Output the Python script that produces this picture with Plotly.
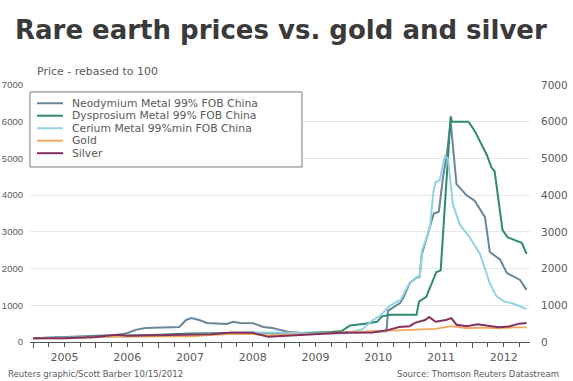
import plotly.graph_objects as go

# ---- data: prices rebased to 100 (Jan 2005 = 100) ----
nd_dates = ["2005-01-01", "2005-04-01", "2005-07-01", "2005-10-01", "2006-01-01", "2006-05-01",
            "2006-07-01", "2006-08-20", "2006-10-15", "2007-01-01", "2007-05-01", "2007-06-10",
            "2007-07-10", "2007-08-25", "2007-10-10", "2008-02-01", "2008-03-10", "2008-04-20",
            "2008-07-05", "2008-09-01", "2008-10-25", "2009-01-20", "2009-04-01", "2009-07-01",
            "2009-10-01", "2010-01-01", "2010-04-01", "2010-08-20", "2010-08-28", "2010-11-06",
            "2010-11-25", "2011-01-01", "2011-02-10", "2011-02-28", "2011-03-14", "2011-04-08",
            "2011-05-08", "2011-05-22", "2011-06-20", "2011-07-15", "2011-08-08", "2011-08-28",
            "2011-10-01", "2011-11-28", "2012-01-15", "2012-03-15", "2012-04-12", "2012-06-10",
            "2012-07-20", "2012-10-05", "2012-11-12"]
nd_vals = [100, 115, 130, 140, 160, 190,
           240, 330, 380, 390, 410, 600,
           650, 600, 520, 490, 550, 520,
           510, 410, 380, 280, 250, 240,
           250, 250, 270, 290, 850, 1060,
           1200, 1600, 1750, 1780, 2400, 2800,
           3300, 3500, 3550, 4500, 5200, 6000,
           4300, 4000, 3850, 3400, 2450, 2250,
           1880, 1690, 1420]

dy_dates = ["2005-01-01", "2005-07-01", "2006-01-01", "2006-07-01", "2007-01-01", "2007-07-01",
            "2008-01-01", "2008-07-01", "2009-01-01", "2009-07-01", "2009-10-01", "2009-12-01",
            "2010-01-20", "2010-04-15", "2010-06-25", "2010-07-25", "2010-09-10", "2011-02-10",
            "2011-02-25", "2011-04-08", "2011-05-08", "2011-06-05", "2011-07-01", "2011-07-08",
            "2011-08-28", "2011-09-05", "2011-12-10", "2012-01-15", "2012-02-25", "2012-03-25",
            "2012-04-22", "2012-05-10", "2012-06-25", "2012-07-25", "2012-10-15", "2012-11-12"]
dy_vals = [100, 120, 140, 170, 200, 230,
           240, 250, 230, 250, 270, 300,
           450, 500, 550, 700, 740, 740,
           1100, 1230, 1600, 1900, 1950, 2500,
           6150, 6000, 6000, 5750, 5350, 5100,
           4750, 4650, 3050, 2850, 2700, 2400]

ce_dates = ["2005-01-01", "2005-07-01", "2006-01-01", "2006-07-01", "2007-01-01", "2007-07-01",
            "2008-01-01", "2008-07-01", "2009-01-01", "2009-07-01", "2010-01-01", "2010-04-01",
            "2010-06-01", "2010-07-10", "2010-09-10", "2010-11-10", "2010-12-25", "2011-02-05",
            "2011-03-01", "2011-03-15", "2011-04-15", "2011-05-01", "2011-05-20", "2011-06-01",
            "2011-06-25", "2011-07-25", "2011-08-12", "2011-08-25", "2011-09-10", "2011-10-20",
            "2011-12-10", "2012-02-15", "2012-04-12", "2012-05-20", "2012-07-05", "2012-08-25",
            "2012-11-12"]
ce_vals = [100, 110, 130, 150, 170, 200,
           220, 260, 250, 230, 240, 350,
           600, 700, 1000, 1150, 1550, 1750,
           1800, 2500, 2900, 3200, 4100, 4350,
           4400, 5050, 5000, 4450, 3750, 3200,
           2900, 2400, 1600, 1250, 1100, 1050,
           900]

au_dates = ["2005-01-01", "2005-07-01", "2006-01-01", "2006-05-01", "2006-07-01", "2007-01-01",
            "2007-07-01", "2007-11-01", "2008-03-01", "2008-07-01", "2008-10-01", "2009-01-01",
            "2009-07-01", "2009-12-01", "2010-06-01", "2010-12-01", "2011-06-01", "2011-09-01",
            "2011-12-01", "2012-03-01", "2012-06-01", "2012-09-01", "2012-11-12"]
au_vals = [100, 100, 125, 155, 145, 150,
           155, 185, 225, 215, 180, 200,
           215, 260, 285, 325, 360, 430,
           375, 390, 370, 400, 400]

ag_dates = ["2005-01-01", "2005-07-01", "2006-01-01", "2006-05-01", "2006-07-01", "2007-01-01",
            "2007-07-01", "2007-11-01", "2008-03-01", "2008-07-01", "2008-10-01", "2009-01-01",
            "2009-07-01", "2009-12-01", "2010-06-01", "2010-09-01", "2010-11-01", "2011-01-01",
            "2011-02-01", "2011-04-01", "2011-04-25", "2011-06-01", "2011-08-01", "2011-09-01",
            "2011-10-01", "2011-12-01", "2012-02-01", "2012-04-01", "2012-06-01", "2012-08-01",
            "2012-10-01", "2012-11-12"]
ag_vals = [100, 105, 135, 200, 170, 185,
           180, 210, 260, 250, 140, 160,
           200, 250, 260, 330, 410, 430,
           520, 600, 680, 550, 600, 650,
           470, 430, 480, 430, 400, 420,
           500, 520]

series = [
    ("Neodymium Metal 99% FOB China", nd_dates, nd_vals, "#6a8799", 2),
    ("Dysprosium Metal 99% FOB China", dy_dates, dy_vals, "#2e8c6c", 2),
    ("Cerium Metal 99%min FOB China", ce_dates, ce_vals, "#93d2e3", 2),
    ("Gold", au_dates, au_vals, "#f3a95c", 1.8),
    ("Silver", ag_dates, ag_vals, "#84305e", 2),
]

y_ticks = [0, 1000, 2000, 3000, 4000, 5000, 6000, 7000]

FONT = "DejaVu Sans"
GREY = "#5a5a5a"

fig = go.Figure()
for name, dates, vals, color, width in series:
    fig.add_trace(go.Scatter(x=dates, y=vals, mode="lines", name=name,
                             line=dict(color=color, width=width), showlegend=False))

# right-hand copy of the value axis
fig.add_trace(go.Scatter(x=[nd_dates[0]], y=[nd_vals[0]], yaxis="y2", mode="lines",
                         line=dict(width=0), showlegend=False, hoverinfo="skip"))

# compact legend box drawn with shapes
shapes = [dict(type="rect", xref="paper", yref="paper", x0=0.0, x1=0.544, y0=0.681, y1=0.973,
               line=dict(color="#7a7a7a", width=1), fillcolor="white", layer="above")]
annotations = []
row_top = 0.929
row_step = 0.0486
for i, (name, _, _, color, _) in enumerate(series):
    yy = row_top - i * row_step
    shapes.append(dict(type="line", xref="paper", yref="paper", x0=0.014, x1=0.066, y0=yy, y1=yy,
                       line=dict(color=color, width=2), layer="above"))
    annotations.append(dict(text=name, xref="paper", yref="paper", x=0.08, y=yy, xanchor="left",
                            yanchor="middle", showarrow=False,
                            font=dict(family=FONT, size=10.8, color=GREY)))

annotations += [
    dict(text="Price - rebased to 100", xref="paper", yref="paper", x=0.01, y=1.052,
         xanchor="left", yanchor="middle", showarrow=False,
         font=dict(family=FONT, size=11, color=GREY)),
    dict(text="Reuters graphic/Scott Barber 10/15/2012", xref="paper", yref="paper", x=0.31, y=-0.125,
         xanchor="right", yanchor="middle", showarrow=False,
         font=dict(family=FONT, size=8.5, color=GREY)),
    dict(text="Source: Thomson Reuters Datastream", xref="paper", yref="paper", x=0.73, y=-0.125,
         xanchor="left", yanchor="middle", showarrow=False,
         font=dict(family=FONT, size=8.5, color=GREY)),
]

fig.update_layout(
    template="none",
    width=573, height=381,
    margin=dict(l=30, r=43, t=85, b=39),
    paper_bgcolor="white", plot_bgcolor="white",
    showlegend=False,
    title=dict(text="Rare earth prices vs. gold and silver", xref="container", yref="container",
               x=15 / 573, xanchor="left", y=1 - 30 / 381, yanchor="middle",
               font=dict(family=FONT, size=26, color="#3a3a3a", weight="bold")),
    xaxis=dict(range=["2004-12-13", "2012-12-02"], type="date",
               dtick="M12", tick0="2005-01-01", ticklabelmode="period", tickformat="%Y",
               ticks="outside", ticklen=5, tickcolor="#555", tickwidth=1,
               minor=dict(dtick="M3", tick0="2005-01-01", ticks="outside", ticklen=4,
                          tickcolor="#555", showgrid=False),
               showline=True, linecolor="#555", linewidth=1, showgrid=False, zeroline=False,
               tickfont=dict(family=FONT, size=11, color=GREY), automargin=False),
    yaxis=dict(range=[0, 7000], tickvals=y_ticks, showgrid=True, gridcolor="#e6e6e6", gridwidth=1,
               zeroline=False, showline=False, ticks="", ticklabelstandoff=6,
               tickfont=dict(family="Liberation Sans", size=9.5, color=GREY), automargin=False),
    yaxis2=dict(range=[0, 7000], tickvals=y_ticks, overlaying="y", side="right", showgrid=False,
                zeroline=False, showline=False, ticks="", ticklabelstandoff=10,
                tickfont=dict(family=FONT, size=10.5, color=GREY), automargin=False),
    shapes=shapes,
    annotations=annotations,
)

fig.write_html("out.html")
